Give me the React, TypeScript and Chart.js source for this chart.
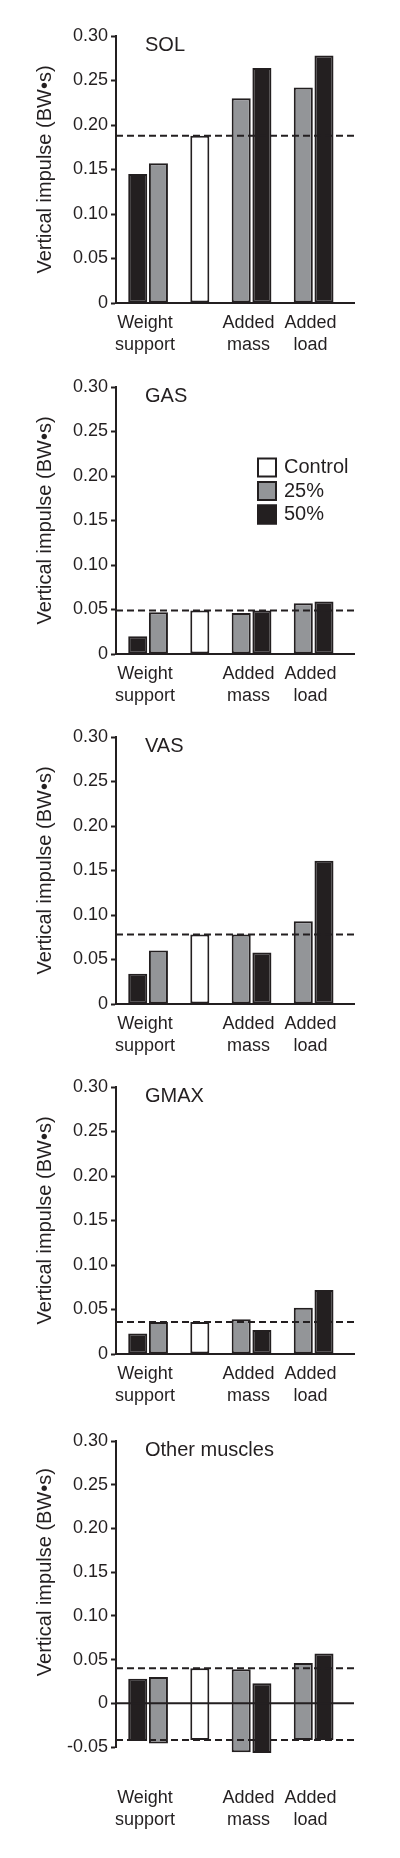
import React, { useEffect, useRef } from 'react';
import { Chart, registerables } from 'chart.js';

Chart.register(...registerables);

// ---------- data ----------
const conditionLabels: string[][] = [['Weight', 'support'], ['Added', 'mass'], ['Added', 'load']];
const legendLabels = ['Control', '25%', '50%'];
const yTitle = 'Vertical impulse (BW\u2022s)';

// values ordered: [Weight support, Added mass, Added load]
const solControl = 0.188;
const sol25 = [0.157, 0.230, 0.242];
const sol50 = [0.145, 0.264, 0.278];

const gasControl = 0.049;
const gas25 = [0.047, 0.046, 0.057];
const gas50 = [0.020, 0.049, 0.059];

const vasControl = 0.078;
const vas25 = [0.060, 0.078, 0.093];
const vas50 = [0.034, 0.058, 0.161];

const gmaxControl = 0.036;
const gmax25 = [0.036, 0.039, 0.052];
const gmax50 = [0.023, 0.027, 0.072];

// Other muscles: [negative part, positive part]
const otherControl: number[] = [-0.042, 0.040];
const other25: number[][] = [[-0.046, 0.030], [-0.056, 0.039], [-0.042, 0.046]];
const other50: number[][] = [[-0.043, 0.028], [-0.057, 0.023], [-0.042, 0.057]];

// ---------- layout (slots on the x axis) ----------
const slot50 = [0, 6, 9];
const slot25 = [1, 5, 8];
const slotControl = 3;
const labelSlots = [0.35, 5.35, 8.35];
const XMIN = -1.05;
const XMAX = 10.45;

const INK = '#231f20';
const GRAY = '#939598';
const FONT = "'Liberation Sans', Arial, Helvetica, sans-serif";

type PanelDef = {
  name: string;
  control: number | number[];
  s25: (number | number[])[];
  s50: (number | number[])[];
  top: number;
  height: number;
  xAxisHeight: number;
  labelPad: number;
  yMin: number;
  floating: boolean;
  legend: boolean;
};

const panels: PanelDef[] = [
  { name: 'SOL', control: solControl, s25: sol25, s50: sol50, top: 0, height: 370, xAxisHeight: 67, labelPad: 9, yMin: 0, floating: false, legend: false },
  { name: 'GAS', control: gasControl, s25: gas25, s50: gas50, top: 351, height: 370, xAxisHeight: 67, labelPad: 9, yMin: 0, floating: false, legend: true },
  { name: 'VAS', control: vasControl, s25: vas25, s50: vas50, top: 701, height: 370, xAxisHeight: 67, labelPad: 9, yMin: 0, floating: false, legend: false },
  { name: 'GMAX', control: gmaxControl, s25: gmax25, s50: gmax50, top: 1051, height: 370, xAxisHeight: 67, labelPad: 9, yMin: 0, floating: false, legend: false },
  { name: 'Other muscles', control: otherControl, s25: other25, s50: other50, top: 1405, height: 453, xAxisHeight: 111, labelPad: 40, yMin: -0.05, floating: true, legend: false },
];

function hLine(y: number, dashed: boolean) {
  return {
    type: 'line' as const,
    data: [{ x: XMIN, y }, { x: XMAX, y }],
    borderColor: INK,
    borderWidth: 2,
    borderDash: dashed ? [7, 4] : [],
    pointRadius: 0,
    fill: false,
    order: -1,
  };
}

function makeTextPlugin(p: PanelDef) {
  return {
    id: 'panelText',
    afterDraw(chart: any) {
      const { ctx, chartArea } = chart;
      const yScale = chart.scales.y;
      ctx.save();
      ctx.fillStyle = INK;
      ctx.font = `20px ${FONT}`;
      ctx.textBaseline = 'middle';
      ctx.textAlign = 'left';
      ctx.fillText(p.name, chartArea.left + 29, chartArea.top + 9);

      ctx.save();
      ctx.translate(45, yScale.getPixelForValue(0.15));
      ctx.rotate(-Math.PI / 2);
      ctx.textAlign = 'center';
      ctx.fillText(yTitle, 0, 0);
      ctx.restore();

      if (p.legend) {
        const fills = ['#ffffff', GRAY, INK];
        const lx = chartArea.left + 141;
        const ly = chartArea.top + 70.5;
        legendLabels.forEach((lab, i) => {
          const by = ly + i * 23.5;
          ctx.fillStyle = fills[i];
          ctx.fillRect(lx, by, 20, 20);
          ctx.lineWidth = 2;
          ctx.strokeStyle = INK;
          ctx.strokeRect(lx + 1, by + 1, 18, 18);
          ctx.fillStyle = INK;
          ctx.textAlign = 'left';
          ctx.fillText(lab, lx + 27, by + 10);
        });
      }
      ctx.restore();
    },
  };
}

function Panel({ p }: { p: PanelDef }) {
  const ref = useRef<HTMLCanvasElement | null>(null);

  useEffect(() => {
    if (!ref.current) return;
    const barStyle = (fill: string) => ({
      type: 'bar' as const,
      backgroundColor: fill,
      borderColor: INK,
      borderWidth: 2,
      borderSkipped: false,
      grouped: false,
      categoryPercentage: 1,
      barPercentage: 0.92,
      clip: false,
      order: 1,
    });

    const datasets: any[] = [
      { ...barStyle('#ffffff'), label: legendLabels[0], data: [{ x: slotControl, y: p.control }] },
      { ...barStyle(GRAY), label: legendLabels[1], data: p.s25.map((v, i) => ({ x: slot25[i], y: v })) },
      { ...barStyle(INK), label: legendLabels[2], data: p.s50.map((v, i) => ({ x: slot50[i], y: v })) },
    ];
    if (p.floating) {
      const c = p.control as number[];
      datasets.push(hLine(c[1], true));
      datasets.push(hLine(c[0], true));
      datasets.push(hLine(0, false));
    } else {
      datasets.push(hLine(p.control as number, true));
    }

    const chart = new Chart(ref.current, {
      type: 'bar',
      data: { datasets },
      options: {
        animation: false,
        responsive: false,
        maintainAspectRatio: false,
        devicePixelRatio: 1,
        layout: { padding: { top: 36, right: 46, left: 0, bottom: 0 } },
        plugins: { legend: { display: false }, tooltip: { enabled: false }, title: { display: false } },
        scales: {
          x: {
            type: 'linear',
            min: XMIN,
            max: XMAX,
            bounds: 'data',
            offset: false,
            grid: { display: false, drawTicks: false },
            border: { display: !p.floating, color: INK, width: 2 },
            ticks: {
              padding: p.labelPad,
              color: INK,
              font: { family: FONT, size: 18, lineHeight: 1.22 },
              maxRotation: 0,
              autoSkip: false,
              callback: (value: any) => {
                const idx = labelSlots.findIndex((s) => Math.abs(s - Number(value)) < 1e-6);
                return idx >= 0 ? conditionLabels[idx] : '';
              },
            },
            afterBuildTicks: (scale: any) => {
              scale.ticks = labelSlots.map((v) => ({ value: v }));
            },
            afterFit: (scale: any) => {
              scale.height = p.xAxisHeight;
            },
          } as any,
          y: {
            type: 'linear',
            min: p.yMin,
            max: 0.3,
            grid: {
              display: true,
              drawOnChartArea: false,
              drawTicks: true,
              tickLength: 5,
              tickWidth: 2,
              tickColor: INK,
            },
            border: { display: true, color: INK, width: 2 },
            ticks: {
              stepSize: 0.05,
              padding: 3,
              color: INK,
              font: { family: FONT, size: 18 },
              callback: (value: any) => {
                const v = Number(value);
                return Math.abs(v) < 1e-9 ? '0' : v.toFixed(2);
              },
            },
            afterFit: (scale: any) => {
              scale.width = 116;
            },
          } as any,
        },
      },
      plugins: [makeTextPlugin(p)],
    } as any);

    return () => chart.destroy();
  }, [p]);

  return (
    <canvas
      ref={ref}
      width={400}
      height={p.height}
      style={{ position: 'absolute', left: 0, top: p.top, width: 400, height: p.height }}
    />
  );
}

export default function App() {
  return (
    <div style={{ position: 'absolute', left: 0, top: 0, width: 400, height: 1858, background: '#ffffff' }}>
      {panels.map((p) => (
        <Panel key={p.name} p={p} />
      ))}
    </div>
  );
}
